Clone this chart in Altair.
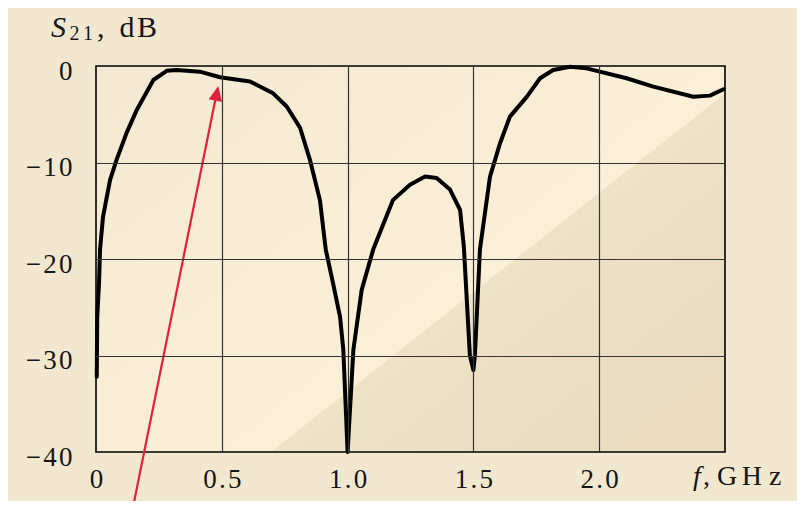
import altair as alt
import pandas as pd

# ---- data ----
freq_ghz = [0.003, 0.005, 0.012, 0.016, 0.028, 0.056, 0.082, 0.122, 0.162, 0.228,
            0.281, 0.321, 0.413, 0.493, 0.612, 0.704, 0.758, 0.811, 0.850, 0.890,
            0.913, 0.942, 0.970, 0.983, 1.000, 1.023, 1.056, 1.102, 1.180, 1.248,
            1.308, 1.354, 1.407, 1.447, 1.462, 1.486, 1.500, 1.506, 1.526, 1.566,
            1.606, 1.645, 1.712, 1.765, 1.817, 1.884, 1.950, 2.109, 2.215, 2.374,
            2.440, 2.494]
s21_db = [-32.2, -26.0, -22.5, -19.0, -15.6, -11.8, -9.7, -6.9, -4.55, -1.45,
          -0.5, -0.41, -0.59, -1.17, -1.6, -2.83, -4.2, -6.4, -9.7, -13.9,
          -19.0, -22.5, -26.0, -29.4, -40.0, -29.4, -23.2, -19.0, -13.9, -12.3,
          -11.46, -11.6, -12.8, -14.9, -18.7, -30.0, -31.5, -30.0, -19.0, -11.46,
          -8.0, -5.25, -3.2, -1.27, -0.41, -0.07, -0.24, -1.27, -2.14, -3.18,
          -3.07, -2.41]

x_domain = [0, 2.5]
y_domain = [-40, 0]
x_ticks = [0, 0.5, 1.0, 1.5, 2.0]
x_tick_labels = ["0", "0.5", "1.0", "1.5", "2.0"]
y_ticks = [-40, -30, -20, -10, 0]
y_tick_labels = ["\u221240", "\u221230", "\u221220", "\u221210", "0"]

arrow_f = [0.148, 0.475]
arrow_db = [-45.6, -3.4]
arrow_tip_f = [0.486]
arrow_tip_db = [-2.07]

HAIR = "\u200a"
SIXTH = "\u2006"
FOUR = "\u2005"
FONT = "Liberation Serif"
INK = "#161616"
RED = "#e0213a"


def spaced(s):
    return HAIR.join(list(s))


def label_expr(values, labels):
    expr = "''"
    for v, l in reversed(list(zip(values, labels))):
        expr = f"datum.value == {v} ? '{spaced(l)}' : ({expr})"
    return expr


xs = alt.Scale(domain=x_domain, nice=False, zero=False)
ys = alt.Scale(domain=y_domain, nice=False, zero=False)

x_axis = alt.Axis(
    values=x_ticks, labelExpr=label_expr(x_ticks, x_tick_labels), title=None,
    ticks=False, domain=False, grid=True, gridColor="#333333", gridWidth=1.2,
    gridOpacity={"condition": {"test": "datum.value == 0", "value": 0}, "value": 1},
    labelFont=FONT, labelFontSize=27, labelColor=INK, labelPadding=14,
    labelFlush=False, labelOverlap=False, labelBound=False, zindex=1,
)
y_axis = alt.Axis(
    values=y_ticks, labelExpr=label_expr(y_ticks, y_tick_labels), title=None,
    ticks=False, domain=False, grid=True, gridColor="#333333", gridWidth=1.2,
    gridOpacity={"condition": {"test": "datum.value == 0 || datum.value == -40", "value": 0}, "value": 1},
    labelFont=FONT, labelFontSize=27, labelColor=INK, labelPadding=24,
    labelAlign="right", labelBaseline="middle", labelOffset=5,
    labelFlush=False, labelOverlap=False, labelBound=False, zindex=1,
)

gradient = alt.LinearGradient(
    gradient="linear", x1=0, y1=0, x2=1, y2=0.777,
    stops=[
        alt.GradientStop(offset=0, color="#f3e9d2"),
        alt.GradientStop(offset=0.657, color="#fbefd7"),
        alt.GradientStop(offset=0.659, color="#eee2c7"),
        alt.GradientStop(offset=1, color="#e9dcbf"),
    ],
)


def X(field):
    return alt.X(field, scale=xs, axis=x_axis)


def Y(field):
    return alt.Y(field, scale=ys, axis=y_axis)


bg_df = pd.DataFrame({"f0": [x_domain[0]], "f1": [x_domain[1]],
                      "d0": [y_domain[0]], "d1": [y_domain[1]]})
bg = alt.Chart(bg_df).mark_rect(fill=gradient, stroke="black", strokeWidth=1.6).encode(
    x=X("f0:Q"), x2="f1:Q", y=Y("d0:Q"), y2="d1:Q",
)

curve_df = pd.DataFrame({"f": freq_ghz, "db": s21_db})
curve = alt.Chart(curve_df).mark_line(
    color="black", strokeWidth=4, strokeJoin="round", strokeCap="round"
).encode(x=X("f:Q"), y=Y("db:Q"), order="f:Q")

arrow = alt.Chart(pd.DataFrame({"f": arrow_f, "db": arrow_db})).mark_line(
    color=RED, strokeWidth=2.2
).encode(x=X("f:Q"), y=Y("db:Q"))

head = alt.Chart(pd.DataFrame({"f": arrow_tip_f, "db": arrow_tip_db})).mark_point(
    shape="M0,0L-0.9,2L0.9,2Z", filled=True, size=225, angle=11.4,
    color=RED, opacity=1, strokeWidth=0,
).encode(x=X("f:Q"), y=Y("db:Q"))


def note(f, db, text, size, italic=False):
    kw = dict(text=text, font=FONT, fontSize=size, align="left",
              baseline="alphabetic", color=INK)
    if italic:
        kw["fontStyle"] = "italic"
    return alt.Chart(pd.DataFrame({"f": [f], "db": [db]})).mark_text(**kw).encode(
        x=X("f:Q"), y=Y("db:Q"),
    )


notes = [
    note(-0.179, 3.05, "S", 30, italic=True),
    note(-0.105, 2.69, "2" + SIXTH + "1", 20),
    note(0.004, 3.05, "," + FOUR + " d" + HAIR + "B", 30),
    note(2.373, -43.37, "f", 28, italic=True),
    note(2.4125, -43.37, "," + FOUR + "G" + SIXTH + "H" + FOUR + "z", 28),
]

chart = alt.layer(bg, curve, arrow, head, *notes).properties(
    width=629, height=386,
    padding={"left": 88, "top": 58, "right": 72, "bottom": 49},
    autosize=alt.AutoSizeParams(type="none"),
    background="#f2e8d0",
).configure_view(stroke=None)

chart.save("out.html", embed_options={"renderer": "svg", "actions": False})
